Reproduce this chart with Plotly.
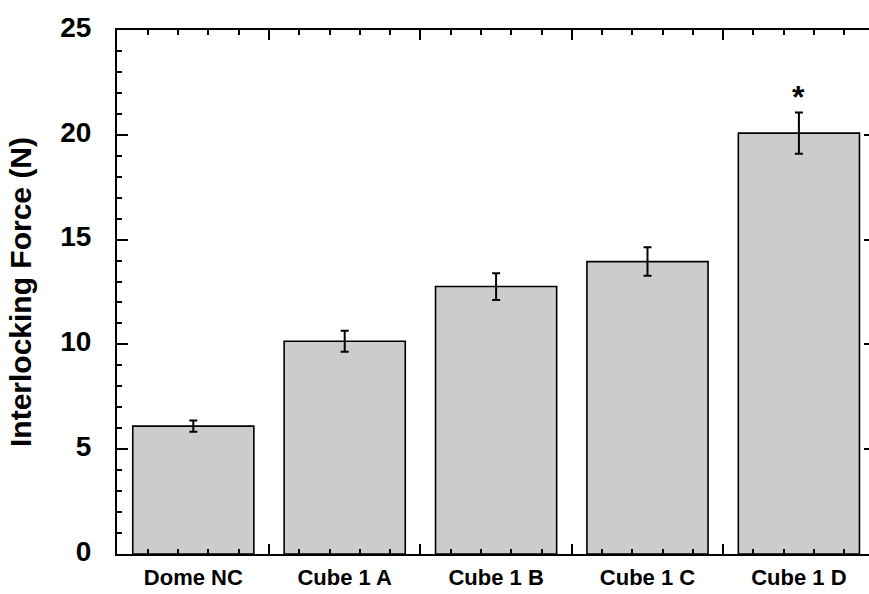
import plotly.graph_objects as go

# Mean interlocking force per design, with standard-error bars
categories = ["Dome NC", "Cube 1 A", "Cube 1 B", "Cube 1 C", "Cube 1 D"]
force_mean = [6.1, 10.15, 12.76, 13.95, 20.08]
force_err = [0.27, 0.5, 0.64, 0.68, 0.98]
significance = ["", "", "", "", "*"]

positions = list(range(len(categories)))
FONT = "Liberation Sans, Arial, Helvetica, sans-serif"

fig = go.Figure()

fig.add_trace(go.Bar(
    x=positions,
    y=force_mean,
    width=0.8,
    marker=dict(color="#cccccc", line=dict(color="#000000", width=1.6)),
    error_y=dict(type="data", array=force_err, visible=True,
                 color="#000000", thickness=2, width=4),
    showlegend=False,
    hoverinfo="skip",
))

# Invisible companion trace so the boundary-tick axis is drawn
fig.add_trace(go.Scatter(
    x=positions, y=force_mean, xaxis="x2", yaxis="y2",
    mode="markers", marker=dict(opacity=0), showlegend=False, hoverinfo="skip",
))

# Significance marks above the error bars
for xi, m, e, s in zip(positions, force_mean, force_err, significance):
    if s:
        fig.add_annotation(
            x=xi, y=m + e, text=s, showarrow=False, yanchor="bottom",
            yshift=-4, font=dict(family=FONT, size=32, color="#000000", weight="bold"),
        )

xrange = [-0.504, 4.463]

fig.update_layout(
    width=869,
    height=594,
    margin=dict(l=117, r=0, t=30, b=40),
    paper_bgcolor="#ffffff",
    plot_bgcolor="#ffffff",
    bargap=0.2,
    xaxis=dict(
        range=xrange,
        tickmode="array",
        tickvals=positions,
        ticktext=categories,
        ticks="",
        showline=False,
        showgrid=False,
        zeroline=False,
        ticklabelstandoff=8,
        tickfont=dict(family=FONT, size=22, color="#000000", weight="bold"),
    ),
    xaxis2=dict(
        overlaying="x",
        anchor="y",
        side="bottom",
        range=xrange,
        tickmode="array",
        tickvals=[-0.5, 0.5, 1.5, 2.5, 3.5, 4.5],
        ticks="inside",
        ticklen=10,
        tickwidth=2,
        tickcolor="#000000",
        minor=dict(ticks="inside", tickmode="linear", tick0=-0.5, dtick=0.2,
                   ticklen=5, tickwidth=1.5, tickcolor="#000000"),
        showticklabels=False,
        showline=True,
        linecolor="#000000",
        linewidth=2,
        mirror="allticks",
        showgrid=False,
        zeroline=False,
    ),
    yaxis=dict(
        range=[0, 25],
        tickmode="linear",
        tick0=0,
        dtick=5,
        ticks="inside",
        ticklen=11,
        tickwidth=2,
        tickcolor="#000000",
        minor=dict(ticks="inside", tickmode="linear", tick0=0, dtick=1,
                   ticklen=5, tickwidth=1.5, tickcolor="#000000"),
        showline=True,
        linecolor="#000000",
        linewidth=2,
        showgrid=False,
        zeroline=False,
        ticklabelstandoff=18,
        ticklabelshift=-3,
        tickfont=dict(family=FONT, size=28, color="#000000", weight="bold"),
        title=dict(text="Interlocking Force (N)", standoff=20,
                   font=dict(family=FONT, size=30, color="#000000", weight="bold")),
        automargin=False,
    ),
    yaxis2=dict(
        overlaying="y",
        anchor="x",
        side="right",
        range=[0, 25],
        tickmode="linear",
        tick0=0,
        dtick=5,
        ticks="inside",
        ticklen=5,
        tickwidth=2,
        tickcolor="#000000",
        showticklabels=False,
        showline=False,
        showgrid=False,
        zeroline=False,
    ),
)

fig.write_html("out.html")
